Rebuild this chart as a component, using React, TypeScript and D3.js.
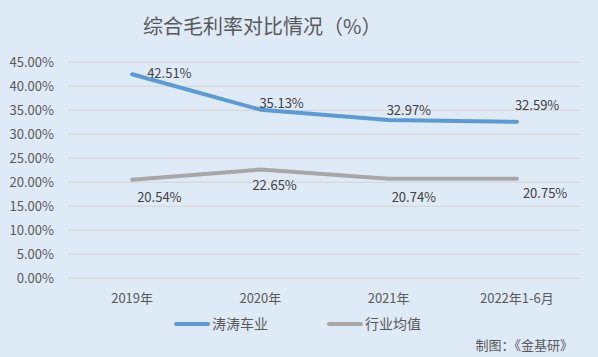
import React from "react";
import * as d3 from "d3";

const categories = ["2019年", "2020年", "2021年", "2022年1-6月"];
const taotao = [42.51, 35.13, 32.97, 32.59];
const industry = [20.54, 22.65, 20.74, 20.75];
const yTicks = [0, 5, 10, 15, 20, 25, 30, 35, 40, 45];
const seriesNames = ["涛涛车业", "行业均值"];

const W = 598, H = 357;
const FONT = "'Noto Sans CJK SC', 'Noto Sans', sans-serif";

export default function App() {
  const x = d3.scaleBand<string>().domain(categories).range([68, 581]);
  const y = d3.scaleLinear().domain([0, 45]).range([278.3, 62.3]);
  const cx = (c: string) => (x(c) as number) + x.bandwidth() / 2;
  const line = d3.line<number>().x((_, i) => cx(categories[i])).y((d) => y(d));

  // label offsets (dx, dy) relative to the point, text-anchor start, baseline
  const blueOff = [[15, 4], [-1, -2], [-2, -5], [-2, -12]];
  const grayOff = [[5, 22], [-8, 20], [3, 23], [6, 19]];
  const colors = ["#5B9BD5", "#A9A6A6"];

  return (
    <svg width={W} height={H} style={{ position: "absolute", left: 0, top: 0 }}>
      <rect x={0} y={0} width={W} height={H} fill="#DEEAF6" />
      <text x={143} y={34} fontSize={20} fill="#595959" fontFamily={FONT}>
        综合毛利率对比情况（%）
      </text>
      {yTicks.map((t) => (
        <g key={t}>
          <line x1={68} x2={581} y1={y(t)} y2={y(t)} stroke="#D5D3D0" strokeWidth={1} />
          <text x={54} y={y(t) + 4.5} fontSize={13} fill="#595959" textAnchor="end" fontFamily={FONT}>
            {t.toFixed(2)}%
          </text>
        </g>
      ))}
      {categories.map((c) => (
        <text key={c} x={cx(c)} y={303} fontSize={13} fill="#595959" textAnchor="middle" fontFamily={FONT}>
          {c}
        </text>
      ))}
      <path d={line(industry) || ""} fill="none" stroke={colors[1]} strokeWidth={4} strokeLinecap="round" strokeLinejoin="round" />
      <path d={line(taotao) || ""} fill="none" stroke={colors[0]} strokeWidth={4} strokeLinecap="round" strokeLinejoin="round" />
      {taotao.map((v, i) => (
        <text key={"b" + i} x={cx(categories[i]) + blueOff[i][0]} y={y(v) + blueOff[i][1]} fontSize={13} fill="#404040" fontFamily={FONT}>
          {v.toFixed(2)}%
        </text>
      ))}
      {industry.map((v, i) => (
        <text key={"g" + i} x={cx(categories[i]) + grayOff[i][0]} y={y(v) + grayOff[i][1]} fontSize={13} fill="#404040" fontFamily={FONT}>
          {v.toFixed(2)}%
        </text>
      ))}
      {seriesNames.map((n, i) => {
        const lx = i === 0 ? 176 : 329;
        return (
          <g key={n}>
            <line x1={lx} x2={lx + 32} y1={324} y2={324} stroke={colors[i]} strokeWidth={4} strokeLinecap="round" />
            <text x={lx + 36} y={329} fontSize={14} fill="#595959" fontFamily={FONT}>{n}</text>
          </g>
        );
      })}
      <text x={573} y={350} fontSize={13} fill="#595959" textAnchor="end" fontFamily={FONT}>
        制图：《金基研》
      </text>
    </svg>
  );
}
